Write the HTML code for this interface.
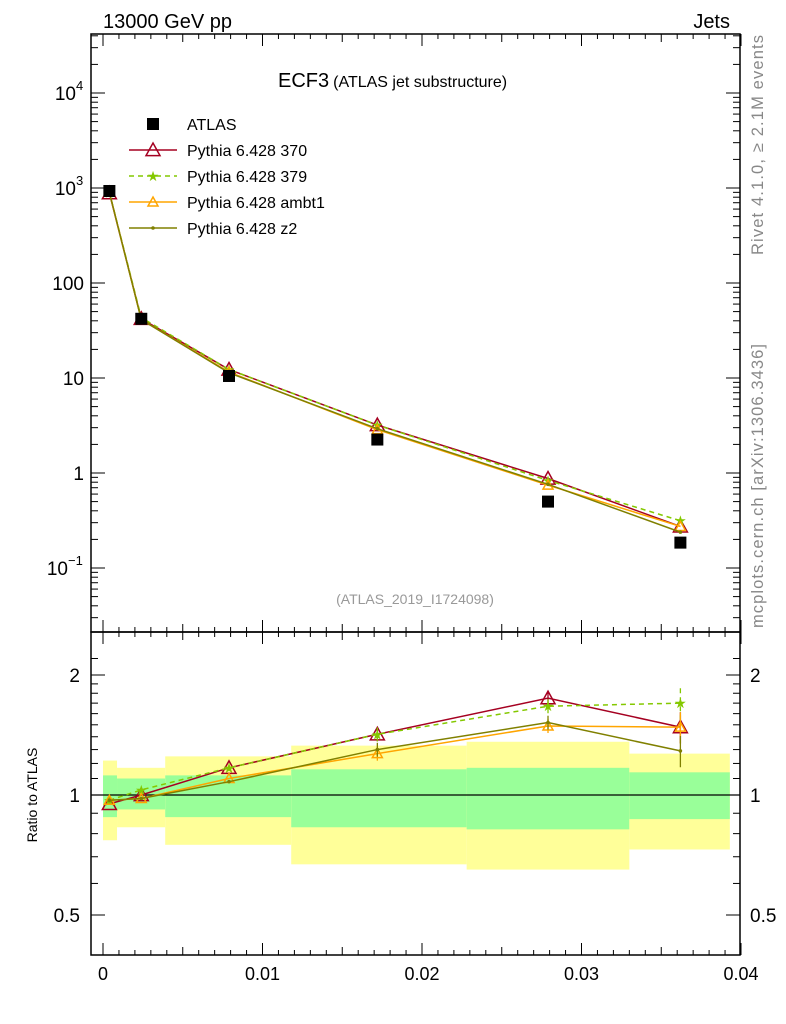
<!DOCTYPE html>
<html><head><meta charset="utf-8"><style>
body{margin:0;background:#fff;}
svg{display:block;font-family:"Liberation Sans",sans-serif;}
</style></head><body>
<svg id="chart" width="786" height="1024">
<g id="bands"></g>
<g id="grid"></g>
<g id="series"></g>
<text x="103" y="28" font-size="20">13000 GeV pp</text>
<text x="730" y="28" font-size="20" text-anchor="end">Jets</text>
<text x="278" y="87" font-size="20">ECF3<tspan font-size="16" dx="4">(ATLAS jet substructure)</tspan></text>
<text x="415" y="604" font-size="14" fill="#999" text-anchor="middle">(ATLAS_2019_I1724098)</text>
<text transform="translate(763,255) rotate(-90)" font-size="16.5" fill="#888" textLength="220">Rivet 4.1.0, ≥ 2.1M events</text>
<text transform="translate(763,628) rotate(-90)" font-size="16.5" fill="#888" textLength="284">mcplots.cern.ch [arXiv:1306.3436]</text>
<text transform="translate(37,795) rotate(-90)" font-size="14" text-anchor="middle">Ratio to ATLAS</text>
<g id="legend"></g>
</svg>
<script>
const xs=[0.0004,0.0024,0.0079,0.0172,0.0279,0.0362];
const atlas=[930,42,10.5,2.25,0.5,0.185];
const r370=[0.95,1.0,1.17,1.42,1.75,1.48];
const r379=[0.97,1.03,1.17,1.42,1.67,1.70];
const rambt1=[0.97,0.98,1.10,1.27,1.49,1.48];
const rz2=[0.97,0.98,1.08,1.30,1.52,1.29];
const binEdges=[0,0.00088,0.0039,0.0118,0.0228,0.033,0.0393];
const yelLo=[0.77,0.83,0.75,0.67,0.65,0.73];
const yelHi=[1.22,1.17,1.25,1.33,1.36,1.27];
const grnLo=[0.88,0.92,0.88,0.83,0.82,0.87];
const grnHi=[1.12,1.1,1.12,1.16,1.17,1.14];
const xTicks=[0,0.01,0.02,0.03,0.04];
const xTickLabels=["0","0.01","0.02","0.03","0.04"];

const NS="http://www.w3.org/2000/svg";
const L=91,R=740,T=34,MB=632,RB=955;
const X=v=>103+(v/0.04)*(741-103);
const Y=v=>473-95*Math.log10(v);
const YR=v=>795-120*Math.log2(v);
function mk(p,tag,a){const e=document.createElementNS(NS,tag);for(const k in a)e.setAttribute(k,a[k]);p.appendChild(e);return e;}
const bands=document.getElementById('bands'),grid=document.getElementById('grid'),ser=document.getElementById('series'),leg=document.getElementById('legend');

for(let i=0;i<yelLo.length;i++){
 const r=mk(bands,'rect',{x:X(binEdges[i]),y:YR(yelHi[i]),width:X(binEdges[i+1])-X(binEdges[i]),height:YR(yelLo[i])-YR(yelHi[i]),fill:'#ffff99'});
 
 
 const g=mk(bands,'rect',{x:X(binEdges[i]),y:YR(grnHi[i]),width:X(binEdges[i+1])-X(binEdges[i]),height:YR(grnLo[i])-YR(grnHi[i]),fill:'#99ff99'});
 
 
}
mk(grid,'line',{x1:L,x2:R,y1:YR(1),y2:YR(1),stroke:'#000','stroke-width':1.3});
mk(grid,'rect',{x:L,y:T,width:R-L,height:MB-T,fill:'none',stroke:'#000','stroke-width':1.5});
mk(grid,'rect',{x:L,y:MB,width:R-L,height:RB-MB,fill:'none',stroke:'#000','stroke-width':1.5});
for(let i=0;i<=40;i++){const v=i*0.001,x=X(v);const maj=i%10==0,mid=i%5==0;const len=maj?12:(mid?8:5);
 mk(grid,'line',{x1:x,x2:x,y1:RB,y2:RB-len,stroke:'#000'});mk(grid,'line',{x1:x,x2:x,y1:MB,y2:MB-len,stroke:'#000'});
 mk(grid,'line',{x1:x,x2:x,y1:MB,y2:MB+len,stroke:'#000'});mk(grid,'line',{x1:x,x2:x,y1:T,y2:T+len,stroke:'#000'});}
xTicks.forEach((v,i)=>{const t=mk(grid,'text',{x:X(v),y:980,'font-size':18,'text-anchor':'middle'});t.textContent=xTickLabels[i];
 
 });
for(let d=-2;d<=4;d++){for(let m=1;m<10;m++){const v=m*Math.pow(10,d),y=Y(v);if(y<T||y>MB)continue;const len=m==1?14:7;
 mk(grid,'line',{x1:L,x2:L+len,y1:y,y2:y,stroke:'#000'});mk(grid,'line',{x1:R,x2:R-len,y1:y,y2:y,stroke:'#000'});}}
const yl=[[4,'10','4'],[3,'10','3'],[2,'100',''],[1,'10',''],[0,'1',''],[-1,'10','−1']];
yl.forEach(a=>{const t=mk(grid,'text',{x:a[2].length>1?68:76,y:Y(Math.pow(10,a[0]))+7,'font-size':19,'text-anchor':'end'});t.textContent=a[1];
 if(!a[2])t.setAttribute('x',84);
 
 
 if(a[2]){const s=mk(grid,'text',{x:a[2].length>1?68:76,y:Y(Math.pow(10,a[0]))-3,'font-size':13});s.textContent=a[2];}});
[0.5,0.6,0.7,0.8,0.9,1,1.1,1.2,1.3,1.4,1.5,1.6,1.7,1.8,1.9,2,2.2].forEach(v=>{const y=YR(v);if(y<MB||y>RB)return;const maj=(v==0.5||v==1||v==2);const len=maj?14:7;
 mk(grid,'line',{x1:L,x2:L+len,y1:y,y2:y,stroke:'#000'});mk(grid,'line',{x1:R,x2:R-len,y1:y,y2:y,stroke:'#000'});});
[[2,'2'],[1,'1'],[0.5,'0.5']].forEach(a=>{const t=mk(grid,'text',{x:80,y:YR(a[0])+7,'font-size':19,'text-anchor':'end'});t.textContent=a[1];
 
 
 const t2=mk(grid,'text',{x:750,y:YR(a[0])+7,'font-size':19});t2.textContent=a[1];});

function tri(p,x,y,c,s){mk(p,'path',{d:`M${x},${y-s} L${x+s},${y+s*0.8} L${x-s},${y+s*0.8} Z`,fill:'none',stroke:c,'stroke-width':1.5});}
function star(p,x,y,c){mk(p,'text',{x:x,y:y+5,'font-size':14,fill:c,'text-anchor':'middle'}).textContent='★';}
const models=[
 {name:'Pythia 6.428 370',r:r370,c:'#a50021',dash:'',m:'tri',s:7},
 {name:'Pythia 6.428 379',r:r379,c:'#84c800',dash:'5,4',m:'star'},
 {name:'Pythia 6.428 ambt1',r:rambt1,c:'#ffa500',dash:'',m:'tri',s:5},
 {name:'Pythia 6.428 z2',r:rz2,c:'#808000',dash:'',m:'dot'}];
models.forEach((md,k)=>{
 const g=mk(ser,'g',{});
 
 
 const pm=xs.map((x,i)=>X(x)+','+Y(atlas[i]*md.r[i])).join(' ');
 const pr=xs.map((x,i)=>X(x)+','+YR(md.r[i])).join(' ');
 mk(g,'polyline',{points:pm,fill:'none',stroke:md.c,'stroke-width':1.5,'stroke-dasharray':md.dash});
 mk(g,'polyline',{points:pr,fill:'none',stroke:md.c,'stroke-width':1.5,'stroke-dasharray':md.dash});
 xs.forEach((x,i)=>{
  if(i>=3){const e=(i==5?0.09:0.04)*md.r[i];mk(g,'line',{x1:X(x),x2:X(x),y1:YR(md.r[i]+e),y2:YR(md.r[i]-e),stroke:md.c,'stroke-width':1.3,'stroke-dasharray':md.dash});}
  [[Y(atlas[i]*md.r[i])],[YR(md.r[i])]].forEach(a=>{const y=a[0];
  if(md.m=='tri')tri(g,X(x),y,md.c,md.s);else if(md.m=='star')star(g,X(x),y,md.c);else mk(g,'circle',{cx:X(x),cy:y,r:1.8,fill:md.c});});});
 const ly=150+26*k;
 mk(leg,'line',{x1:129,x2:177,y1:ly,y2:ly,stroke:md.c,'stroke-width':1.5,'stroke-dasharray':md.dash});
 if(md.m=='tri')tri(leg,153,ly,md.c,md.s);else if(md.m=='star')star(leg,153,ly,md.c);else mk(leg,'circle',{cx:153,cy:ly,r:1.8,fill:md.c});
 const t=mk(leg,'text',{x:187,y:ly+6,'font-size':16});t.textContent=md.name;
 
 
});
xs.forEach((x,i)=>{const r=mk(ser,'rect',{x:X(x)-6,y:Y(atlas[i])-6,width:12,height:12,fill:'#000'});
 
 });
mk(leg,'rect',{x:147,y:118,width:12,height:12,fill:'#000'});
const at=mk(leg,'text',{x:187,y:130,'font-size':16});at.textContent='ATLAS';


</script>
</body></html>
